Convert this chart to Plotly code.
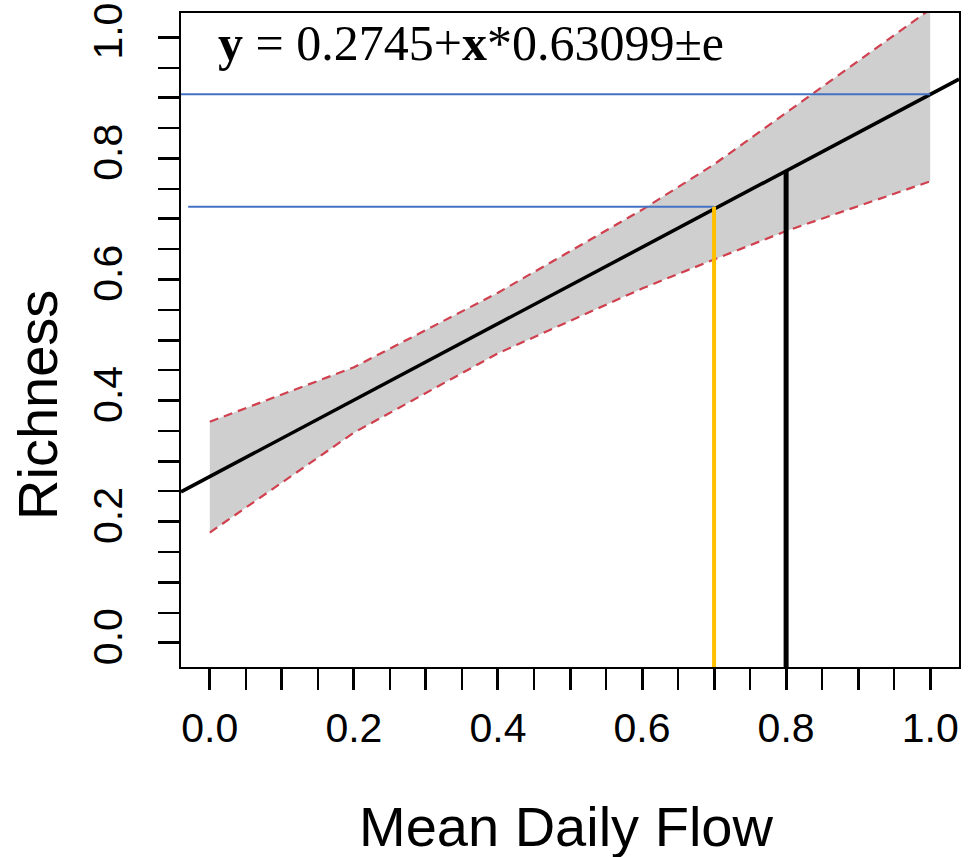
import plotly.graph_objects as go

# ---- data ----
intercept = 0.2745
slope = 0.63099
x_range = [-0.04, 1.04]
y_range = [-0.04, 1.04]

band_x = [0.0, 0.2, 0.4, 0.6, 0.7, 0.8, 1.0]
band_upper = [0.365, 0.455, 0.578, 0.715, 0.79, 0.875, 1.046]
band_lower = [0.182, 0.347, 0.478, 0.585, 0.633, 0.68, 0.762]

hline_levels = [0.906, 0.72]
hline_x_start = [-0.04, -0.03]
hline_x_end = [1.0, 0.7]

vline_x = [0.7, 0.8]
vline_top = [0.72, 0.779]
vline_colors = ["#FFC000", "#000000"]
vline_widths = [4, 5]

major_ticks = [round(i * 0.1, 2) for i in range(11)]
major_text = ["0.0", "", "0.2", "", "0.4", "", "0.6", "", "0.8", "", "1.0"]
minor_ticks = [round(0.05 + i * 0.1, 2) for i in range(10)]

# ---- figure ----
W, H = 968, 857
ml, mr, mt, mb = 181, 9, 13, 190
pw, ph = W - ml - mr, H - mt - mb

fig = go.Figure()

fig.add_trace(go.Scatter(
    x=band_x + band_x[::-1], y=band_upper + band_lower[::-1],
    fill="toself", fillcolor="#CFCFCF", line=dict(width=0),
    mode="lines", hoverinfo="skip", showlegend=False))

for ys in (band_upper, band_lower):
    fig.add_trace(go.Scatter(
        x=band_x, y=ys, mode="lines",
        line=dict(color="#D0404E", width=2.2, dash="9px,6px"),
        showlegend=False))

fig.add_trace(go.Scatter(
    x=x_range, y=[intercept + slope * v for v in x_range], mode="lines",
    line=dict(color="black", width=3.5), showlegend=False))

for lvl, xs, xe in zip(hline_levels, hline_x_start, hline_x_end):
    fig.add_trace(go.Scatter(
        x=[xs, xe], y=[lvl, lvl], mode="lines",
        line=dict(color="#4472C4", width=2), showlegend=False))

for vx, vt, vc, vw in zip(vline_x, vline_top, vline_colors, vline_widths):
    fig.add_trace(go.Scatter(
        x=[vx, vx], y=[y_range[0] - 0.05, vt], mode="lines",
        line=dict(color=vc, width=vw), showlegend=False))

axis_common = dict(
    showgrid=False, zeroline=False, showline=True, mirror=True,
    linecolor="black", linewidth=2,
    ticks="outside", ticklen=21, tickwidth=3, tickcolor="black",
    tickvals=major_ticks, ticktext=major_text,
    tickfont=dict(family="Liberation Sans, Arial, sans-serif", size=41, color="black"),
    minor=dict(tickvals=minor_ticks, ticks="outside", ticklen=21, tickwidth=1.5,
               tickcolor="black", showgrid=False),
)

fig.update_xaxes(range=x_range, ticklabelstandoff=3, **axis_common)
fig.update_yaxes(range=y_range, tickangle=-90, ticklabelstandoff=20, **axis_common)

def px_x(p):
    return (p - ml) / pw

def px_y(p):
    return (H - mb - p) / ph

fig.add_annotation(
    text="<b>y</b> = 0.2745+<b>x</b>*0.63099±e",
    xref="paper", yref="paper", x=px_x(216), y=px_y(43),
    xanchor="left", yanchor="middle", showarrow=False,
    font=dict(family="Liberation Serif, Times New Roman, serif", size=50, color="black"))

fig.add_annotation(
    text="Mean Daily Flow", xref="paper", yref="paper",
    x=px_x(566), y=px_y(826), xanchor="center", yanchor="middle", showarrow=False,
    font=dict(family="Liberation Sans, Arial, sans-serif", size=56, color="black"))

fig.add_annotation(
    text="Richness", xref="paper", yref="paper",
    x=px_x(37), y=px_y(405), xanchor="center", yanchor="middle", textangle=-90,
    showarrow=False,
    font=dict(family="Liberation Sans, Arial, sans-serif", size=56, color="black"))

fig.update_layout(
    width=W, height=H, margin=dict(l=ml, r=mr, t=mt, b=mb, autoexpand=False),
    plot_bgcolor="white", paper_bgcolor="white", showlegend=False)

fig.write_html(
    "out.html",
    config={"displayModeBar": False},
    post_script="document.body.style.margin='0';document.body.style.overflow='hidden';")
